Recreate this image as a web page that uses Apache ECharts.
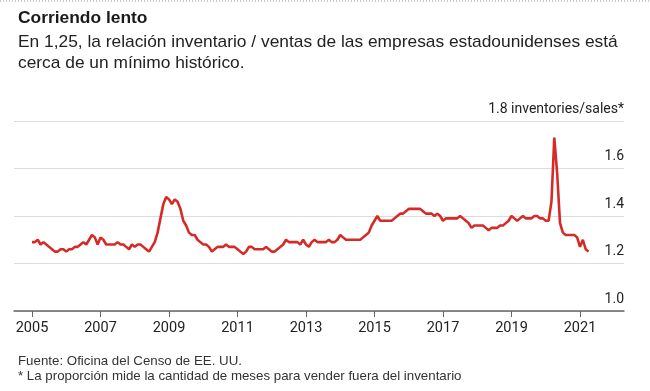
<!DOCTYPE html>
<html>
<head>
<meta charset="utf-8">
<script src="https://cdn.jsdelivr.net/npm/echarts@6/dist/echarts.min.js"></script>
<style>
  html, body { margin: 0; padding: 0; background: #fff; }
  #chart { width: 650px; height: 391px; }
</style>
</head>
<body>
<div id="chart"></div>
<script>
// Monthly inventories/sales ratio, starting January 2005
const startYear = 2005;
const inventorySalesRatio = [
  1.29, 1.29, 1.30, 1.28, 1.29, 1.28, 1.27, 1.26, 1.25, 1.25, 1.26, 1.26, // 2005
  1.25, 1.26, 1.26, 1.27, 1.27, 1.28, 1.29, 1.28, 1.30, 1.32, 1.31, 1.28, // 2006
  1.31, 1.30, 1.28, 1.28, 1.28, 1.28, 1.29, 1.28, 1.28, 1.27, 1.26, 1.28, // 2007
  1.27, 1.28, 1.28, 1.27, 1.26, 1.25, 1.27, 1.29, 1.33, 1.39, 1.45, 1.48, // 2008
  1.47, 1.45, 1.47, 1.46, 1.43, 1.38, 1.36, 1.33, 1.32, 1.32, 1.30, 1.29, // 2009
  1.28, 1.28, 1.27, 1.25, 1.26, 1.27, 1.27, 1.27, 1.28, 1.27, 1.27, 1.27, // 2010
  1.26, 1.25, 1.24, 1.25, 1.27, 1.27, 1.26, 1.26, 1.26, 1.26, 1.27, 1.26, // 2011
  1.25, 1.25, 1.26, 1.27, 1.28, 1.30, 1.29, 1.29, 1.29, 1.29, 1.28, 1.30, // 2012
  1.28, 1.27, 1.29, 1.30, 1.29, 1.29, 1.29, 1.29, 1.30, 1.29, 1.29, 1.30, // 2013
  1.32, 1.31, 1.30, 1.30, 1.30, 1.30, 1.30, 1.30, 1.31, 1.32, 1.33, 1.36, // 2014
  1.38, 1.40, 1.38, 1.38, 1.38, 1.38, 1.38, 1.39, 1.40, 1.41, 1.41, 1.42, // 2015
  1.43, 1.43, 1.43, 1.43, 1.43, 1.42, 1.41, 1.41, 1.41, 1.40, 1.41, 1.40, // 2016
  1.38, 1.39, 1.39, 1.39, 1.39, 1.39, 1.40, 1.39, 1.38, 1.37, 1.35, 1.36, // 2017
  1.36, 1.36, 1.36, 1.35, 1.34, 1.35, 1.35, 1.35, 1.36, 1.36, 1.37, 1.38, // 2018
  1.40, 1.39, 1.38, 1.39, 1.40, 1.39, 1.39, 1.39, 1.40, 1.40, 1.39, 1.39, // 2019
  1.38, 1.38, 1.46, 1.73, 1.58, 1.37, 1.33, 1.32, 1.32, 1.32, 1.32, 1.31, // 2020
  1.27, 1.30, 1.26, 1.25                                                  // 2021
];
const xTickYears = [2005, 2007, 2009, 2011, 2013, 2015, 2017, 2019, 2021];
const yTicks = [1.0, 1.2, 1.4, 1.6, 1.8];
const yUnitLabel = 'inventories/sales*';

const titleText = 'Corriendo lento';
const subtitleText = 'En 1,25, la relación inventario / ventas de las empresas estadounidenses está\ncerca de un mínimo histórico.';
const footerText = 'Fuente: Oficina del Censo de EE. UU.\n* La proporción mide la cantidad de meses para vender fuera del inventario';

const seriesData = inventorySalesRatio.map((v, i) => [startYear + i / 12, v]);

const FONT = 'Roboto, "Liberation Sans", sans-serif';
const FONT_WIDE = '"Liberation Sans", Arial, sans-serif';
const chart = echarts.init(document.getElementById('chart'), null, { renderer: 'canvas' });
chart.setOption({
  backgroundColor: '#fff',
  animation: false,
  textStyle: { fontFamily: FONT },
  title: [
    { text: titleText, left: 13, top: 5,
      textStyle: { fontFamily: FONT_WIDE, fontSize: 17.4, fontWeight: 'bold', color: '#1a1a1a' } },
    { text: subtitleText, left: 13, top: 27,
      textStyle: { fontFamily: FONT_WIDE, fontSize: 17.35, fontWeight: 'normal', color: '#222', lineHeight: 21 } },
    { text: footerText, left: 13, top: 349,
      textStyle: { fontFamily: FONT_WIDE, fontSize: 13.3, fontWeight: 'normal', color: '#333', lineHeight: 15 } }
  ],
  graphic: [
    { type: 'line', shape: { x1: 0, y1: 1, x2: 650, y2: 1 },
      style: { stroke: '#999', lineWidth: 1, lineDash: [1, 2] } }
  ],
  grid: { left: 14, right: 26, top: 121, bottom: 80, containLabel: false },
  xAxis: {
    type: 'value',
    min: 2004.474,
    max: 2022.285,
    splitLine: { show: false },
    axisLine: { show: true, lineStyle: { color: '#666', width: 1.5 } },
    axisTick: { show: true, customValues: xTickYears, length: 6, lineStyle: { color: '#666', width: 1 } },
    axisLabel: { customValues: xTickYears, formatter: v => String(Math.round(v)),
      fontFamily: FONT, fontSize: 14.5, color: '#222', margin: 10 }
  },
  yAxis: {
    type: 'value',
    position: 'right',
    min: 1.0,
    max: 1.8,
    interval: 0.2,
    axisLine: { show: false },
    axisTick: { show: false },
    splitLine: { show: true, lineStyle: { color: '#dcdcdc', width: 1 } },
    axisLabel: {
      inside: true,
      margin: 0,
      align: 'right',
      verticalAlign: 'bottom',
      padding: [0, 0, 5, 0],
      fontFamily: FONT, fontSize: 14, color: '#222',
      formatter: v => {
        const s = v.toFixed(1);
        return Math.abs(v - yTicks[yTicks.length - 1]) < 1e-9 ? s + ' ' + yUnitLabel : s;
      }
    }
  },
  series: [{
    type: 'line',
    data: seriesData,
    showSymbol: false,
    lineStyle: { color: '#d52b27', width: 2.6 },
    itemStyle: { color: '#d52b27' }
  }]
});
</script>
</body>
</html>
